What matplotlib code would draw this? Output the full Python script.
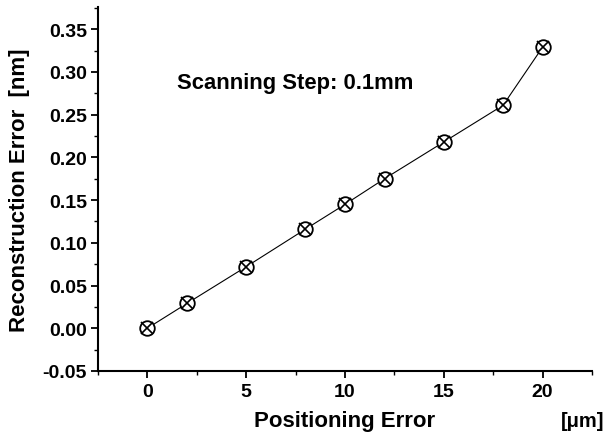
import matplotlib
matplotlib.use("Agg")
import matplotlib.pyplot as plt
from matplotlib.ticker import MultipleLocator

positioning_error = [0, 2, 5, 8, 10, 12, 15, 18, 20]
reconstruction_error = [0.0, 0.029, 0.072, 0.116, 0.145, 0.175, 0.218, 0.261, 0.329]
x_ticks = [0, 5, 10, 15, 20]
y_ticks = [-0.05, 0.00, 0.05, 0.10, 0.15, 0.20, 0.25, 0.30, 0.35]

plt.rcParams['font.family'] = ['Liberation Sans', 'DejaVu Sans']
plt.rcParams['font.weight'] = 'bold'

fig = plt.figure(figsize=(6.05, 4.35), dpi=100)
ax = fig.add_axes([0.162, 0.145, 0.8165, 0.8365])

ax.plot(positioning_error, reconstruction_error, color='black', lw=0.8, zorder=2)
ax.plot(positioning_error, reconstruction_error, ls='none', marker='o', ms=10.5,
        mfc='white', mec='black', mew=1.3, zorder=3)
ax.plot(positioning_error, reconstruction_error, ls='none', marker='x', ms=8,
        mec='black', mew=1.2, zorder=4)

ax.set_xlim(-2.5, 22.5)
ax.set_ylim(-0.05, 0.376)
ax.set_xticks(x_ticks)
ax.set_yticks(y_ticks)
ax.set_xticklabels([str(v) for v in x_ticks])
ax.set_yticklabels([f"{v:.2f}" for v in y_ticks])
ax.xaxis.set_minor_locator(MultipleLocator(2.5))
ax.yaxis.set_minor_locator(MultipleLocator(0.025))

for s in ['top', 'right']:
    ax.spines[s].set_visible(False)
for s in ['left', 'bottom']:
    ax.spines[s].set_linewidth(1.5)

ax.tick_params(which='major', direction='out', length=5, width=1.3, labelsize=14)
ax.tick_params(which='minor', direction='out', length=3, width=1.0)
ax.tick_params(axis='y', pad=3)
for lab in ax.get_xticklabels() + ax.get_yticklabels():
    lab.set_fontweight('bold')

fig.text(0.569, 0.0184, 'Positioning Error', ha='center', va='baseline',
         fontsize=16, fontweight='bold')
fig.text(0.963, 0.0184, '[\u03bcm]', ha='center', va='baseline',
         fontsize=14.5, fontweight='bold')
fig.text(0.032, 0.563, 'Reconstruction Error  [nm]', ha='center', va='center',
         rotation=90, fontsize=16, fontweight='bold')
ax.text(1.5, 0.2817, 'Scanning Step: 0.1mm', ha='left', va='baseline',
        fontsize=15.8, fontweight='bold')

fig.savefig('out.png', dpi=100)
